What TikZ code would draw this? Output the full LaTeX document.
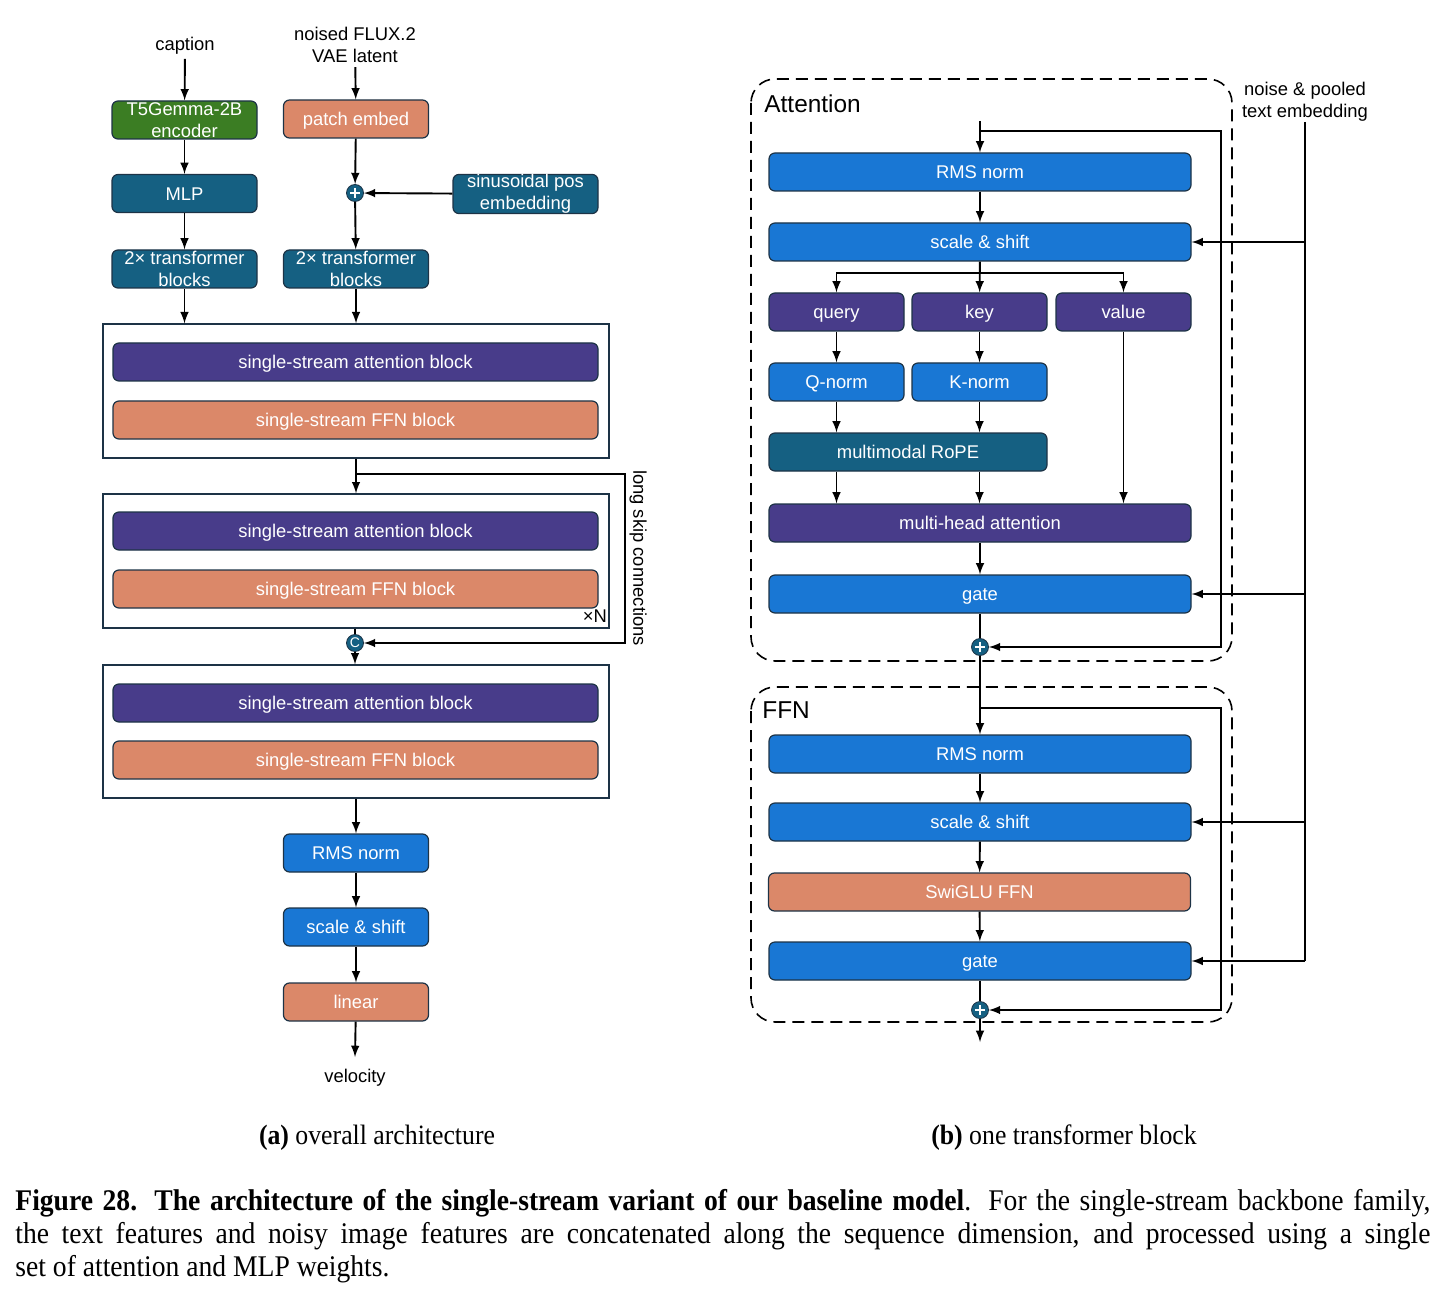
\documentclass[tikz,border=0pt]{standalone}
\usepackage{fontspec}
\setsansfont{Liberation Sans}
\newfontfamily\capfont[FakeStretch=0.92]{Liberation Serif}
\usepackage{tikz}
\usetikzlibrary{arrows}
\usetikzlibrary{positioning}

\begin{document}
\begin{tikzpicture}[x=0.5pt,y=-0.5pt,>=latex,
    every node/.style={font=\sffamily\fontsize{9.2}{11}\selectfont},
    blk/.style={draw=bline, line width=0.6pt, rounded corners=3pt, text=white,
      align=center, inner sep=0pt, minimum height=19pt},
    one/.style={text height=8.6pt, text depth=1.9pt},
    sblk/.style={blk, minimum width=72.5pt},
    wblk/.style={blk, one, minimum width=242.5pt},
    rblk/.style={blk, one, minimum width=211pt},
    qblk/.style={blk, one, minimum width=67.5pt},
    stack/.style={draw=bline, line width=0.7pt, fill=white, inner sep=0pt, minimum width=253pt},
    lbl/.style={inner sep=2pt, align=center},
    addc/.style={circle, fill=cteal, draw=bline, line width=0.4pt, minimum size=8.5pt, inner sep=0pt,
      path picture={\draw[white, line width=1.1pt]
        ([yshift=-1.7pt]path picture bounding box.north) -- ([yshift=1.7pt]path picture bounding box.south)
        ([xshift=1.7pt]path picture bounding box.west) -- ([xshift=-1.7pt]path picture bounding box.east);}},
    arr/.style={->, line width=0.95pt},
    ln/.style={line width=0.95pt},
    dashbox/.style={line width=0.8pt, dash pattern=on 6pt off 3.5pt, rounded corners=12pt}]
  \definecolor{cgreen}{HTML}{3B7D23}
  \definecolor{cteal}{HTML}{156082}
  \definecolor{cpurple}{HTML}{483C8A}
  \definecolor{cblue}{HTML}{1977D4}
  \definecolor{csalmon}{HTML}{DB8869}
  \definecolor{bline}{HTML}{1D3346}
  \useasboundingbox (0,0) rectangle (1445,1299);

  % (a) overall architecture
  \node[lbl] (cap) at (185,46) {caption};
  \node[lbl] (lat) at (355,45) {noised FLUX.2\\VAE latent};
  \node[sblk, fill=cgreen] (enc) at (184.5,120) {T5Gemma-2B\\encoder};
  \node[sblk, one, fill=csalmon] (patch) at (356,119) {patch embed};
  \node[sblk, one, fill=cteal] (mlp) at (184.5,193.5) {MLP};
  \node[addc] (pl) at (355,193) {};
  \node[sblk, fill=cteal] (sin) at (525.5,194) {sinusoidal pos\\embedding};
  \node[sblk, fill=cteal] (trt) at (184.5,269) {2× transformer\\blocks};
  \node[sblk, fill=cteal] (tri) at (356,269) {2× transformer\\blocks};

  \node[stack, minimum height=67pt] (stk1) at (356,391) {};
  \node[wblk, fill=cpurple] (att1) at (355.5,362) {single-stream attention block};
  \node[wblk, fill=csalmon] (ffn1) at (355.5,420) {single-stream FFN block};
  \node[stack, minimum height=67pt] (stk2) at (356,561) {};
  \node[wblk, fill=cpurple] (att2) at (355.5,531) {single-stream attention block};
  \node[wblk, fill=csalmon] (ffn2) at (355.5,589) {single-stream FFN block};
  \node[inner sep=0pt] (rep) at (595,616) {×N};
  \node[addc, path picture={}, text=white, font=\sffamily\fontsize{7}{7}\selectfont] (cc) at (355,643) {C};
  \node[stack, minimum height=66.5pt] (stk3) at (356,731.5) {};
  \node[wblk, fill=cpurple] (att3) at (355.5,703) {single-stream attention block};
  \node[wblk, fill=csalmon] (ffn3) at (355.5,760) {single-stream FFN block};
  \node[lbl, rotate=-90] (skl) at (638,558) {long skip connections};

  \node[sblk, one, fill=cblue] (orms) at (356,853) {RMS norm};
  \node[sblk, one, fill=cblue] (oss) at (356,927) {scale \& shift};
  \node[sblk, one, fill=csalmon] (olin) at (356,1002) {linear};
  \coordinate (oend) at (355,1057);
  \node[lbl] (vel) at (355,1078) {velocity};

  \draw[arr] (cap) -- (enc);
  \draw[arr] (enc) -- (mlp);
  \draw[arr] (mlp) -- (trt);
  \draw[arr] (trt) -- (trt |- stk1.north);
  \draw[arr] (lat) -- (patch);
  \draw[arr] (patch) -- (pl);
  \draw[arr] (sin) -- (pl);
  \draw[arr] (pl) -- (tri);
  \draw[arr] (tri) -- (tri |- stk1.north);
  \draw[arr] (stk1) -- (stk2);
  \coordinate (sk1) at (355,474);
  \coordinate (sk2) at (625,474);
  \draw[arr] (sk1) -- (sk2) |- (cc);
  \draw[ln] (stk2.south -| cc) -- (cc);
  \draw[arr] (cc) -- (cc |- stk3.north);
  \draw[arr] (stk3.south -| orms) -- (orms);
  \draw[arr] (orms) -- (oss);
  \draw[arr] (oss) -- (olin);
  \draw[arr] (olin) -- (oend);

  % (b) one transformer block
  \draw[dashbox] (751,79) rectangle (1232,661);
  \draw[dashbox] (751,687) rectangle (1232,1022);
  \node[anchor=west, inner sep=0pt, font=\sffamily\fontsize{12.2}{14}\selectfont] (attl) at (764,104) {Attention};
  \node[anchor=west, inner sep=0pt, font=\sffamily\fontsize{12.2}{14}\selectfont] (ffnl) at (762,710) {FFN};
  \node[lbl] (cond) at (1305,102) {noise \& pooled\\text embedding};

  \node[rblk, fill=cblue] (arms) at (980,172) {RMS norm};
  \node[rblk, fill=cblue] (ass) at (980,242) {scale \& shift};
  \node[qblk, fill=cpurple] (q) at (836.5,312) {query};
  \node[qblk, fill=cpurple] (k) at (979.5,312) {key};
  \node[qblk, fill=cpurple] (v) at (1123.5,312) {value};
  \node[qblk, fill=cblue] (qn) at (836.5,382) {Q-norm};
  \node[qblk, fill=cblue] (kn) at (979.5,382) {K-norm};
  \node[blk, one, minimum width=139pt, fill=cteal] (rope) at (908,452) {multimodal RoPE};
  \node[rblk, fill=cpurple] (mha) at (980,523) {multi-head attention};
  \node[rblk, fill=cblue] (agate) at (980,594) {gate};
  \node[addc] (apl) at (980,647) {};

  \node[rblk, fill=cblue] (frms) at (980,754) {RMS norm};
  \node[rblk, fill=cblue] (fss) at (980,822) {scale \& shift};
  \node[rblk, fill=csalmon] (swi) at (979.5,892) {SwiGLU FFN};
  \node[rblk, fill=cblue] (fgate) at (980,961) {gate};
  \node[addc] (fpl) at (980,1010) {};
  \coordinate (ain) at (980,121);
  \coordinate (fout) at (980,1042);

  \draw[arr] (ain) -- (arms);
  \coordinate (ask) at (980,131);
  \coordinate (askr) at (1221,131);
  \draw[arr] (ask) -- (askr) |- (apl);
  \draw[arr] (arms) -- (ass);
  \coordinate (qkv) at (980,273);
  \draw[arr] (ass) -- (k);
  \draw[arr] (qkv) -| (q);
  \draw[arr] (qkv) -| (v);
  \draw[arr] (q) -- (qn);
  \draw[arr] (k) -- (kn);
  \draw[arr] (qn) -- (qn |- rope.north);
  \draw[arr] (kn) -- (kn |- rope.north);
  \draw[arr] (rope.south -| qn) -- (mha.north -| qn);
  \draw[arr] (rope.south -| kn) -- (mha.north -| kn);
  \draw[arr] (v) -- (v |- mha.north);
  \draw[arr] (mha) -- (agate);
  \draw[ln] (agate) -- (apl);
  \draw[arr] (apl) -- (frms);
  \coordinate (fsk) at (980,708);
  \coordinate (fskr) at (1221,708);
  \draw[arr] (fsk) -- (fskr) |- (fpl);
  \draw[arr] (frms) -- (fss);
  \draw[arr] (fss) -- (swi);
  \draw[arr] (swi) -- (fgate);
  \draw[ln] (fgate) -- (fpl);
  \draw[arr] (fpl) -- (fout);

  \coordinate (ctop) at (1305,122);
  \coordinate (cbot) at (1305,961);
  \draw[ln] (ctop) -- (cbot);
  \draw[arr] (ctop |- ass) -- (ass);
  \draw[arr] (ctop |- agate) -- (agate);
  \draw[arr] (ctop |- fss) -- (fss);
  \draw[arr] (cbot) -- (fgate);

  % captions
  \node[font=\capfont\fontsize{14}{16}\selectfont] (capa) at (377,1138) {\textbf{(a)} overall architecture};
  \node[font=\capfont\fontsize{14}{16}\selectfont] (capb) at (1064,1138) {\textbf{(b)} one transformer block};
  \node[anchor=north west, inner sep=0pt, text width=707.5pt, align=justify,
    font=\capfont\fontsize{15}{16.5}\selectfont] (figcap) at (15,1189)
    {\textbf{Figure 28. The architecture of the single-stream variant of our baseline model}. For the single-stream backbone family,\linebreak
     the text features and noisy image features are concatenated along the sequence dimension, and processed using a single\linebreak
     set of attention and MLP weights.};
\end{tikzpicture}
\end{document}
